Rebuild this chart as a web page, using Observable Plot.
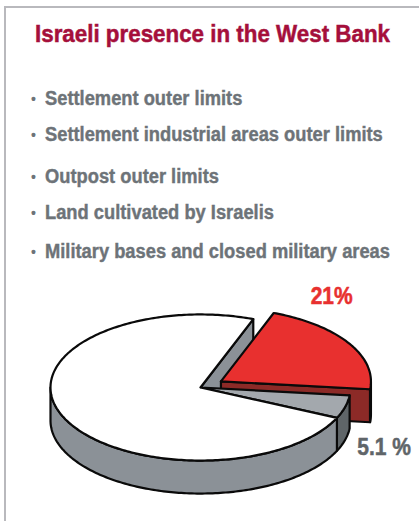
<!DOCTYPE html>
<html><head><meta charset="utf-8">
<script src="https://cdn.jsdelivr.net/npm/d3@7"></script>
<script src="https://cdn.jsdelivr.net/npm/@observablehq/plot@0.6"></script>
<style>
body{margin:0;background:#fff;}
#page{position:relative;width:419px;height:521px;overflow:hidden;font-family:"Liberation Sans Narrow","Arial Narrow","Liberation Sans",Arial,sans-serif;font-weight:bold;}
#frame{position:absolute;left:4px;top:6px;width:440px;height:540px;border-left:2px solid #b9b9bd;border-top:2px solid #b9b9bd;}
#title{position:absolute;left:35px;top:22px;font-size:24.5px;line-height:24px;color:#a50f3b;white-space:nowrap;transform-origin:0 0;-webkit-text-stroke:0.5px #a50f3b;}
.item{position:absolute;left:45px;font-size:19.5px;line-height:20px;color:#6d7378;white-space:nowrap;transform-origin:0 0;-webkit-text-stroke:0.4px #6d7378;}
.dot{position:absolute;left:31px;font-size:14px;line-height:20px;color:#6d7378;}
#chart{position:absolute;left:0;top:280px;}
</style></head>
<body>
<div id="page">
  <div id="frame"></div>
  <div id="title"></div>
  <div id="items"></div>
  <div id="chart"></div>
</div>
<script>
// ---- data ----
const titleText = "Israeli presence in the West Bank";
const bulletItems = [
  "Settlement outer limits",
  "Settlement industrial areas outer limits",
  "Outpost outer limits",
  "Land cultivated by Israelis",
  "Military bases and closed military areas"
];
const sliceNames = ["Israeli presence", "Other share", "Rest of the West Bank"];
const sliceValues = [21, 5.1, 73.9];
const sliceLabels = ["21%", "5.1 %", ""];

// ---- styles ----
const topColors = ["#e8302f", "#a3a8ad", "#ffffff"];
const sideColors = ["#8c2a27", "#5f6568", "#8b9197"];
const labelColors = ["#e8302f", "#5f6569", "#000"];
const explodeBy = [0.16, 0, 0];
const labelOffsets = [[-17, -46], [39, 41], [0, 0]];

// ---- html text ----
const titleEl = document.getElementById("title");
titleEl.textContent = titleText;
const tw = titleEl.getBoundingClientRect().width;
const titleScale = 355 / tw;
titleEl.style.transform = `scaleX(${titleScale})`;

const baselines = [105, 141, 183, 219, 258];
const itemsDiv = document.getElementById("items");
const itemEls = bulletItems.map((t, i) => {
  const dot = document.createElement("div");
  dot.className = "dot";
  dot.textContent = "\u2022";
  dot.style.top = (baselines[i] - 16) + "px";
  itemsDiv.appendChild(dot);
  const d = document.createElement("div");
  d.className = "item";
  d.textContent = t;
  d.style.top = (baselines[i] - 17) + "px";
  itemsDiv.appendChild(d);
  return d;
});
const maxW = d3.max(itemEls, e => e.getBoundingClientRect().width);
const itemScale = 345 / maxW;
itemEls.forEach(e => e.style.transform = `scaleX(${itemScale})`);

// ---- geometry ----
const startDeg = 20.6, tilt = 0.487, depth = 0.22;
const rad = a => a * Math.PI / 180;
const total = d3.sum(sliceValues);
let acc = startDeg;
const slices = sliceValues.map((v, i) => {
  const a0 = acc, a1 = acc + v / total * 360;
  acc = a1;
  const mid = rad((a0 + a1) / 2);
  return {i, name: sliceNames[i], a0, a1,
    ox: explodeBy[i] * Math.sin(mid), oy: explodeBy[i] * Math.cos(mid) * tilt};
});
function pt(s, a, r, h) {
  return {x: s.ox + r * Math.sin(rad(a)), y: s.oy + r * Math.cos(rad(a)) * tilt - h};
}
function arc(s, a0, a1, h) {
  const n = Math.max(2, Math.ceil(Math.abs(a1 - a0)));
  return d3.range(n + 1).map(k => pt(s, a0 + (a1 - a0) * k / n, 1, h));
}
function closeP(p) { return p.concat([p[0]]); }
function topFace(s) { return closeP([pt(s, 0, 0, 0), ...arc(s, s.a0, s.a1, 0)]); }
function outerSide(s) {
  const faces = [];
  for (const base of [90, 450]) {
    const lo = Math.max(s.a0, base), hi = Math.min(s.a1, base + 180);
    if (hi > lo) faces.push(closeP([...arc(s, lo, hi, 0), ...arc(s, hi, lo, depth)]));
  }
  return faces;
}
function radialFace(s, a) {
  return closeP([pt(s, a, 0, 0), pt(s, a, 1, 0), pt(s, a, 1, depth), pt(s, a, 0, depth)]);
}
const n = slices.length;
const isExp = i => explodeBy[(i + n) % n] > 0;
const radialFaces = [], explodedFaces = [];
slices.forEach(s => {
  const endFront = Math.sin(rad(s.a1)) > 0;
  const startFront = Math.sin(rad(s.a0)) < 0;
  const list = isExp(s.i) ? explodedFaces : radialFaces;
  if (endFront && (isExp(s.i) || isExp(s.i + 1))) list.push({pts: radialFace(s, s.a1), fill: sideColors[s.i]});
  if (startFront && (isExp(s.i) || isExp(s.i - 1))) list.push({pts: radialFace(s, s.a0), fill: sideColors[s.i]});
  if (isExp(s.i)) outerSide(s).forEach(p => explodedFaces.push({pts: p, fill: sideColors[s.i]}));
});
const mainSides = [];
slices.filter(s => !isExp(s.i)).forEach(s => outerSide(s).forEach(p => mainSides.push({pts: p, fill: sideColors[s.i]})));
const tops = slices.map(s => ({pts: topFace(s), fill: topColors[s.i]}));

const faces = [...radialFaces, ...explodedFaces, ...mainSides, ...tops];
const stroke = {stroke: "#0a0a0a", strokeWidth: 2.2, strokeLinejoin: "round"};
const faceMarks = faces.map(f => Plot.line(f.pts, {x: "x", y: "y", fill: f.fill, ...stroke}));

const labelData = slices.filter(s => sliceLabels[s.i]).map(s => {
  const p = pt(s, (s.a0 + s.a1) / 2, 1, 0);
  return {...p, label: sliceLabels[s.i], i: s.i};
});
const labelMarks = labelData.map(d => Plot.text([d], {x: "x", y: "y", text: "label",
  dx: labelOffsets[d.i][0], dy: labelOffsets[d.i][1], fill: labelColors[d.i],
  stroke: labelColors[d.i], strokeWidth: 0.5,
  fontSize: 23, fontWeight: "bold", fontFamily: "'Liberation Sans Narrow','Arial Narrow','Liberation Sans',Arial,sans-serif"}));

const W = 419, H = 241, R = 150, cx = 200, cy = 107;
const chart = Plot.plot({
  width: W, height: H, margin: 0,
  style: {background: "transparent", overflow: "visible"},
  x: {domain: [-cx / R, (W - cx) / R], range: [0, W], axis: null},
  y: {domain: [(cy - H) / R, cy / R], range: [H, 0], axis: null},
  marks: [...faceMarks, ...labelMarks]
});
document.getElementById("chart").appendChild(chart);
chart.querySelectorAll("text").forEach(t => {
  const len = t.getComputedTextLength();
  if (len > 0) {
    t.setAttribute("textLength", (len * titleScale).toFixed(1));
    t.setAttribute("lengthAdjust", "spacingAndGlyphs");
  }
});
</script>
</body></html>
